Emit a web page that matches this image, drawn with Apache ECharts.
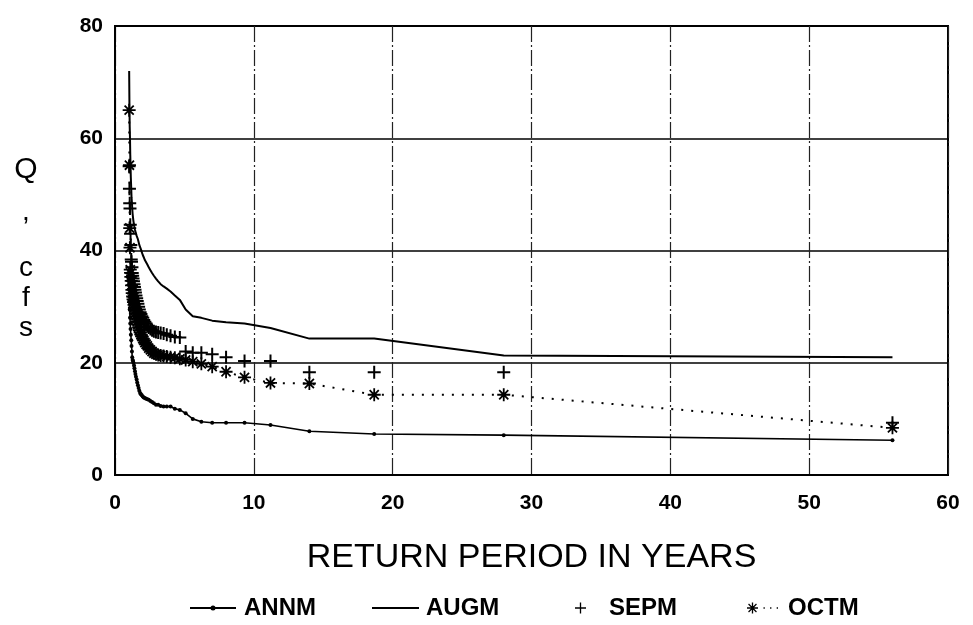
<!DOCTYPE html>
<html>
<head>
<meta charset="utf-8">
<script src="https://cdn.jsdelivr.net/npm/echarts@6/dist/echarts.min.js"></script>
<style>html,body{margin:0;padding:0;background:#fff}#c{width:973px;height:625px}</style>
</head>
<body>
<div id="c"></div>
<script>
// Return period (years) for each ranked value
var returnPeriod = [56, 28, 18.67, 14, 11.2, 9.33, 8, 7, 6.22, 5.6, 5.09, 4.67, 4.31, 4, 3.73, 3.5, 3.29, 3.11, 2.95, 2.8,
  2.67, 2.55, 2.43, 2.33, 2.24, 2.15, 2.07, 2, 1.93, 1.87, 1.81, 1.75, 1.7, 1.65, 1.6, 1.56, 1.51, 1.47, 1.44, 1.4,
  1.37, 1.33, 1.3, 1.27, 1.24, 1.22, 1.19, 1.17, 1.14, 1.12, 1.1, 1.08, 1.06, 1.04, 1.02];
var annm = [6.2, 7.1, 7.3, 7.8, 8.9, 9.3, 9.3, 9.3, 9.5, 10.0, 11.0, 11.6, 11.8, 12.2, 12.2, 12.2, 12.3, 12.5, 12.5, 12.8,
  13.0, 13.2, 13.4, 13.5, 13.6, 13.7, 13.8, 14.0, 14.2, 14.4, 14.6, 15.0, 15.5, 16.0, 16.5, 17.0, 17.5, 18.0, 18.5, 19.0,
  19.5, 20.0, 20.3, 20.5, 21, 22, 23, 24, 25, 26, 27, 28, 29.5, 31, 33];
var augm = [21.0, 21.3, 24.3, 24.3, 26.2, 27.0, 27.2, 27.5, 28.0, 28.3, 29.5, 31.2, 32.0, 32.7, 33.2, 33.6, 34.0, 34.5, 35.0, 35.5,
  36.0, 36.5, 37.0, 37.5, 37.8, 38.3, 38.8, 39.2, 39.7, 40.2, 40.6, 41.0, 41.5, 42.0, 42.3, 42.6, 43.0, 43.3, 43.7, 44.2,
  44.6, 45.2, 45.8, 46.5, 47.5, 48.5, 49.5, 51, 53, 55, 57, 60, 62, 66, 72];
var sepm = [9.3, 18.3, 18.3, 18.3, 20.3, 20.3, 21.0, 21.5, 21.8, 21.8, 22.0, 24.5, 24.6, 24.8, 25.0, 25.2, 25.3, 25.4, 25.5, 25.6,
  25.8, 26.0, 26.3, 26.5, 27.0, 27.3, 27.6, 28.0, 28.3, 28.7, 29.0, 29.5, 30.0, 30.5, 31.0, 31.5, 32.0, 32.5, 33.0, 33.5,
  34.0, 34.5, 35.0, 35.5, 36.0, 37.0, 38.0, 38.4, 41.0, 43.0, 44.6, 47.5, 48.4, 51.0, 55.0];
var octm = [8.4, 14.3, 14.3, 16.3, 16.4, 17.4, 18.4, 19.3, 19.8, 20.2, 20.5, 20.7, 20.9, 21.0, 21.1, 21.2, 21.3, 21.4, 21.5, 21.7,
  22.0, 22.3, 22.6, 23.0, 23.3, 23.6, 24.0, 24.3, 24.7, 25.0, 25.4, 25.8, 26.3, 26.8, 27.3, 27.8, 28.3, 28.8, 29.3, 29.8,
  30.3, 30.8, 31.3, 31.8, 32.4, 33.0, 33.8, 34.6, 35.3, 36.0, 36.6, 40.5, 44.0, 55.2, 65.0];
var seriesNames = ['ANNM', 'AUGM', 'SEPM', 'OCTM'];
var xTicks = [0, 10, 20, 30, 40, 50, 60];
var yTicks = [0, 20, 40, 60, 80];
var yLetters = ['Q', ',', 'c', 'f', 's'];
var xTitle = 'RETURN PERIOD IN YEARS';

function pairs(ys) { return ys.map(function (v, i) { return [returnPeriod[i], v]; }); }

var FONT = 'Liberation Sans, Arial, sans-serif';
var plusPath = 'path://M5,0L5,10M0,5L10,5';
var starPath = 'path://M0,5L10,5M5,0L5,10M1.5,1.5L8.5,8.5M1.5,8.5L8.5,1.5';
// filled legend icons
var iconAnnm = 'path://M0,3L46,3L46,5L0,5Z M20.5,4A2.5,2.5 0 1,1 25.5,4A2.5,2.5 0 1,1 20.5,4Z';
var iconSepm = 'path://M4.4,0L5.6,0L5.6,4.4L10,4.4L10,5.6L5.6,5.6L5.6,10L4.4,10L4.4,5.6L0,5.6L0,4.4L4.4,4.4Z';
var iconOctm = 'path://M0,4.4L10,4.4L10,5.6L0,5.6Z M4.4,0L5.6,0L5.6,10L4.4,10Z M1,1.8L1.8,1L9,8.2L8.2,9Z M1,8.2L8.2,1L9,1.8L1.8,9Z' +
  ' M15,4.4L16.2,4.4L16.2,5.6L15,5.6Z M21,4.4L22.2,4.4L22.2,5.6L21,5.6Z M27,4.4L28.2,4.4L28.2,5.6L27,5.6Z';

var chart = echarts.init(document.getElementById('c'), null, { renderer: 'canvas' });
var letterY = [170, 212, 268, 298, 328];
var graphics = yLetters.map(function (t, i) {
  return { type: 'text', x: 26, y: letterY[i],
    style: { text: t, fill: '#000', font: (i === 0 ? '30px ' : '28px ') + FONT, textAlign: 'center', textVerticalAlign: 'middle' } };
});

var legendTS = { fontSize: 24, fontWeight: 'bold', color: '#000', fontFamily: FONT };
function leg(name, icon, left, w, h, pad) {
  return { data: [{ name: name, icon: icon }], left: left, top: 591, itemWidth: w, itemHeight: h, selectedMode: false,
    itemStyle: { borderWidth: 0, color: '#000', opacity: 1 },
    textStyle: Object.assign({}, legendTS, { padding: [0, 0, 0, pad] }) };
}
chart.setOption({
  animation: false,
  backgroundColor: '#fff',
  grid: { left: 115, right: 25, top: 26, bottom: 150, show: true, borderColor: '#000', borderWidth: 2, backgroundColor: 'transparent' },
  graphic: graphics,
  xAxis: {
    type: 'value', min: xTicks[0], max: xTicks[xTicks.length - 1], interval: 10,
    name: xTitle, nameLocation: 'middle', nameGap: 66,
    nameTextStyle: { fontSize: 34, color: '#000', fontFamily: FONT },
    axisLine: { show: true, lineStyle: { color: '#000', width: 2 } },
    axisTick: { show: false },
    axisLabel: { fontSize: 21, fontWeight: 'bold', color: '#000', fontFamily: FONT, margin: 18 },
    splitLine: { show: true, lineStyle: { color: '#222', width: 1.2, type: [16, 3, 2, 3] } }
  },
  yAxis: {
    type: 'value', min: yTicks[0], max: yTicks[yTicks.length - 1], interval: 20,
    axisLine: { show: true, lineStyle: { color: '#000', width: 2 } },
    axisTick: { show: false },
    axisLabel: { fontSize: 21, fontWeight: 'bold', color: '#000', fontFamily: FONT, margin: 12 },
    splitLine: { show: true, lineStyle: { color: '#000', width: 1.5 } }
  },
  legend: [
    leg(seriesNames[0], iconAnnm, 185, 46, 5, 3),
    leg(seriesNames[1], 'rect', 367, 47, 2, 2),
    leg(seriesNames[2], iconSepm, 570, 11, 11, 18),
    leg(seriesNames[3], iconOctm, 742, 31, 11, 5)
  ],
  series: [
    { name: seriesNames[0], type: 'line', data: pairs(annm), symbol: 'circle', symbolSize: 4, showAllSymbol: true,
      lineStyle: { color: '#000', width: 1.6 }, itemStyle: { color: '#000' }, z: 3 },
    { name: seriesNames[1], type: 'line', data: pairs(augm), symbol: 'none',
      lineStyle: { color: '#000', width: 2 }, itemStyle: { color: '#000' }, z: 3 },
    { name: seriesNames[2], type: 'scatter', data: pairs(sepm), symbol: plusPath, symbolSize: 13,
      itemStyle: { color: '#000', borderColor: '#000', borderWidth: 2, opacity: 1 }, z: 4 },
    { name: seriesNames[3], type: 'line', data: pairs(octm), symbol: starPath, symbolSize: 13, showAllSymbol: true,
      lineStyle: { color: '#000', width: 2, type: [2, 8] }, itemStyle: { color: '#000', borderColor: '#000', borderWidth: 1.8 }, z: 4 }
  ]
});
</script>
</body>
</html>
